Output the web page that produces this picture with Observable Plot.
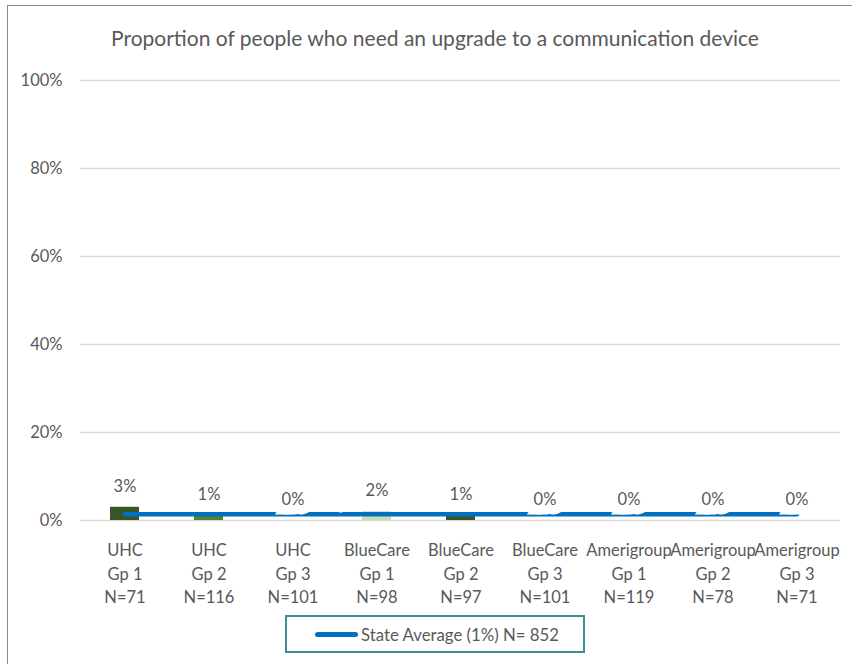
<!DOCTYPE html>
<html>
<head>
<meta charset="utf-8">
<script src="https://cdn.jsdelivr.net/npm/d3@7"></script>
<script src="https://cdn.jsdelivr.net/npm/@observablehq/plot@0.6"></script>
<style>
  html, body { margin: 0; padding: 0; background: #fff; }
  body { width: 852px; height: 664px; overflow: hidden; position: relative; font-family: Lato, "Open Sans", sans-serif; color: #595959; }
  #frame { position: absolute; left: 7px; top: 5px; width: 900px; height: 700px; border: 1px solid #8c8c8c; box-sizing: border-box; z-index: 5; pointer-events: none; }
  #title { position: absolute; left: 7px; top: 25px; width: 856px; text-align: center; font-size: 21px; line-height: 26px; color: #595959; white-space: nowrap; }
  #chart { position: absolute; left: 0; top: 60px; }
  #legend { position: absolute; left: 285px; top: 615px; width: 300px; height: 38px; border: 2px solid #3a8f9a; box-sizing: border-box; display: flex; align-items: center; }
  #legend .swatch { margin-left: 28px; width: 43px; height: 5px; border-radius: 3px; background: #0070c0; }
  #legend .label { margin-left: 3px; font-size: 16.8px; color: #595959; white-space: nowrap; }
</style>
</head>
<body>
<div id="frame"></div>
<div id="title">Proportion of people who need an upgrade to a communication device</div>
<div id="chart"></div>
<div id="legend"><div class="swatch"></div><div class="label">State Average (1%) N= 852</div></div>
<script>
// ---- data ----
const plans = ["UHC", "UHC", "UHC", "BlueCare", "BlueCare", "BlueCare", "Amerigroup", "Amerigroup", "Amerigroup"];
const groups = ["Gp 1", "Gp 2", "Gp 3", "Gp 1", "Gp 2", "Gp 3", "Gp 1", "Gp 2", "Gp 3"];
const sampleSizes = [71, 116, 101, 98, 97, 101, 119, 78, 71];
const values = [3, 1, 0, 2, 1, 0, 0, 0, 0];            // percent
const valueLabels = ["3%", "1%", "0%", "2%", "1%", "0%", "0%", "0%", "0%"];
const barColors = ["#375623", "#548235", "#a9d08e", "#c5e0b4", "#375623", "#548235", "#a9d08e", "#548235", "#375623"];
const stateAverage = 1.4;                               // percent (labelled 1%)
const yTicks = [0, 20, 40, 60, 80, 100];

const categories = plans.map((p, i) => `${p}\n${groups[i]}\nN=${sampleSizes[i]}`);
const data = categories.map((c, i) => ({cat: c, value: values[i], label: valueLabels[i], color: barColors[i]}));

const chart = Plot.plot({
  width: 852,
  height: 550,
  marginLeft: 80,
  marginRight: 12,
  marginTop: 20,
  marginBottom: 90,
  style: {fontFamily: "Lato, 'Open Sans', sans-serif", fontSize: "16px", color: "#595959", background: "transparent", overflow: "visible"},
  x: {domain: categories, paddingInner: 0.655, paddingOuter: 0.3275, label: null},
  y: {domain: [0, 100], label: null},
  color: {type: "identity"},
  marks: [
    Plot.gridY(yTicks, {stroke: "#d9d9d9", strokeOpacity: 1, strokeWidth: 1.5}),
    Plot.axisY(yTicks, {tickSize: 0, tickPadding: 18, tickFormat: d => d + "%", fill: "#595959", fontSize: 16.5, label: null}),
    Plot.barY(data, {x: "cat", y: "value", fill: "color"}),
    Plot.lineY(data, {x: "cat", y: () => stateAverage, stroke: "#0070c0", strokeWidth: 4.5}),
    Plot.text(data, {x: "cat", y: "value", text: "label", dy: -21, lineAnchor: "middle", fill: "#595959", stroke: "white", strokeWidth: 19, strokeLinejoin: "miter", fontSize: 16.5}),
    Plot.axisX({tickSize: 0, tickPadding: 19, lineHeight: 1.42, fill: "#595959", fontSize: 16.5, label: null})
  ]
});
document.getElementById("chart").appendChild(chart);
</script>
</body>
</html>
